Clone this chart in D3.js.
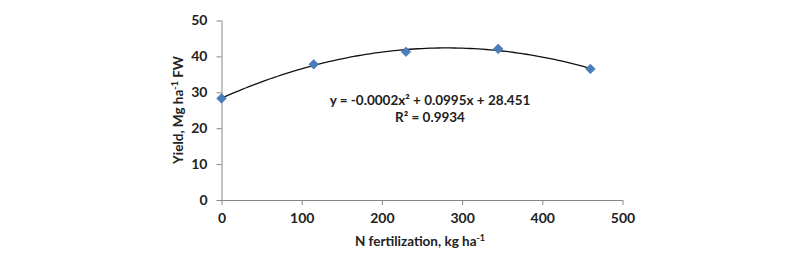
<!DOCTYPE html>
<html>
<head>
<meta charset="utf-8">
<script src="https://cdn.jsdelivr.net/npm/d3@7"></script>
<style>
    body { margin: 0; background: #fff; }
    .axis path, .axis line { stroke: #868686; }
    .axis text { font-family: Lato, "Open Sans", sans-serif; font-weight: bold; font-size: 14px; fill: #222; }
    .lbl { font-family: Lato, "Open Sans", sans-serif; font-weight: bold; font-size: 13.5px; fill: #222; }
</style>
</head>
<body>
<script>
//chart values
var nRates = [0, 115, 230, 345, 460];
var yields = [28.3, 37.8, 41.3, 42.1, 36.5];
var xTicks = [0, 100, 200, 300, 400, 500];
var yTicks = [0, 10, 20, 30, 40, 50];
var eqText = "y = -0.0002x\u00B2 + 0.0995x + 28.451";
var r2Text = "R\u00B2 = 0.9934";

var width = 800, height = 262;

var svg = d3.select("body")
    .append("svg")
    .attr("width", width)
    .attr("height", height);

var x = d3.scaleLinear().domain([0, 500]).range([221.5, 622.5]);
var y = d3.scaleLinear().domain([0, 50]).range([200, 20.5]);

//x axis
svg.append("g")
    .attr("class", "axis")
    .attr("transform", "translate(0," + y(0) + ")")
    .call(d3.axisBottom(x).tickValues(xTicks).tickSize(5).tickSizeOuter(0).tickPadding(8))
    .call(function(g){ g.select(".domain").attr("d", "M" + x(0) + ",0.5H" + x(500)); });

//y axis
svg.append("g")
    .attr("class", "axis")
    .attr("transform", "translate(" + x(0) + ",0)")
    .call(d3.axisLeft(y).tickValues(yTicks).tickSize(5).tickSizeOuter(0).tickPadding(9))
    .call(function(g){ g.select(".domain").attr("d", "M0.5," + y(0) + "V" + y(50)); });

//quadratic least squares trendline from the data
function quadFit(xs, ys){
    var n = xs.length, S = [0,0,0,0,0], T = [0,0,0];
    for (var i = 0; i < n; i++){
        for (var k = 0; k < 5; k++) S[k] += Math.pow(xs[i], k);
        for (var k = 0; k < 3; k++) T[k] += ys[i] * Math.pow(xs[i], k);
    }
    var M = [[S[0],S[1],S[2],T[0]],[S[1],S[2],S[3],T[1]],[S[2],S[3],S[4],T[2]]];
    for (var c = 0; c < 3; c++){
        for (var r = c + 1; r < 3; r++){
            var f = M[r][c] / M[c][c];
            for (var j = c; j < 4; j++) M[r][j] -= f * M[c][j];
        }
    }
    var sol = [0,0,0];
    for (var r = 2; r >= 0; r--){
        var s = M[r][3];
        for (var j = r + 1; j < 3; j++) s -= M[r][j] * sol[j];
        sol[r] = s / M[r][r];
    }
    return sol; // c, b, a
}
var coef = quadFit(nRates, yields);
var curve = d3.range(0, 461, 5).map(function(v){
    return [v, coef[0] + coef[1] * v + coef[2] * v * v];
});

svg.append("path")
    .datum(curve)
    .attr("fill", "none")
    .attr("stroke", "#111")
    .attr("stroke-width", 1.3)
    .attr("d", d3.line().x(function(d){ return x(d[0]); }).y(function(d){ return y(d[1]); }));

//diamond markers
svg.selectAll(".pt")
    .data(nRates)
    .enter()
    .append("path")
    .attr("class", "pt")
    .attr("d", d3.symbol().type(d3.symbolDiamond2).size(60))
    .attr("transform", function(d, i){ return "translate(" + x(d) + "," + y(yields[i]) + ")"; })
    .attr("fill", "#4a7ebb")
    .attr("stroke", "#3c6ca6")
    .attr("stroke-width", 0.5);

//trendline equation
svg.append("text").attr("class", "lbl")
    .attr("x", 430).attr("y", 105)
    .attr("text-anchor", "middle")
    .text(eqText);
svg.append("text").attr("class", "lbl")
    .attr("x", 430).attr("y", 122)
    .attr("text-anchor", "middle")
    .text(r2Text);

//axis titles
var xt = svg.append("text").attr("class", "lbl")
    .attr("x", 420).attr("y", 246)
    .attr("text-anchor", "middle");
xt.append("tspan").text("N fertilization, kg ha");
xt.append("tspan").attr("dy", -5).style("font-size", "9px").text("-1");

var yt = svg.append("text").attr("class", "lbl")
    .attr("text-anchor", "middle")
    .attr("transform", "translate(183," + 110 + ") rotate(-90)");
yt.append("tspan").text("Yield, Mg ha");
yt.append("tspan").attr("dy", -5).style("font-size", "9px").text("-1");
yt.append("tspan").attr("dy", 5).text(" FW");
</script>
</body>
</html>
